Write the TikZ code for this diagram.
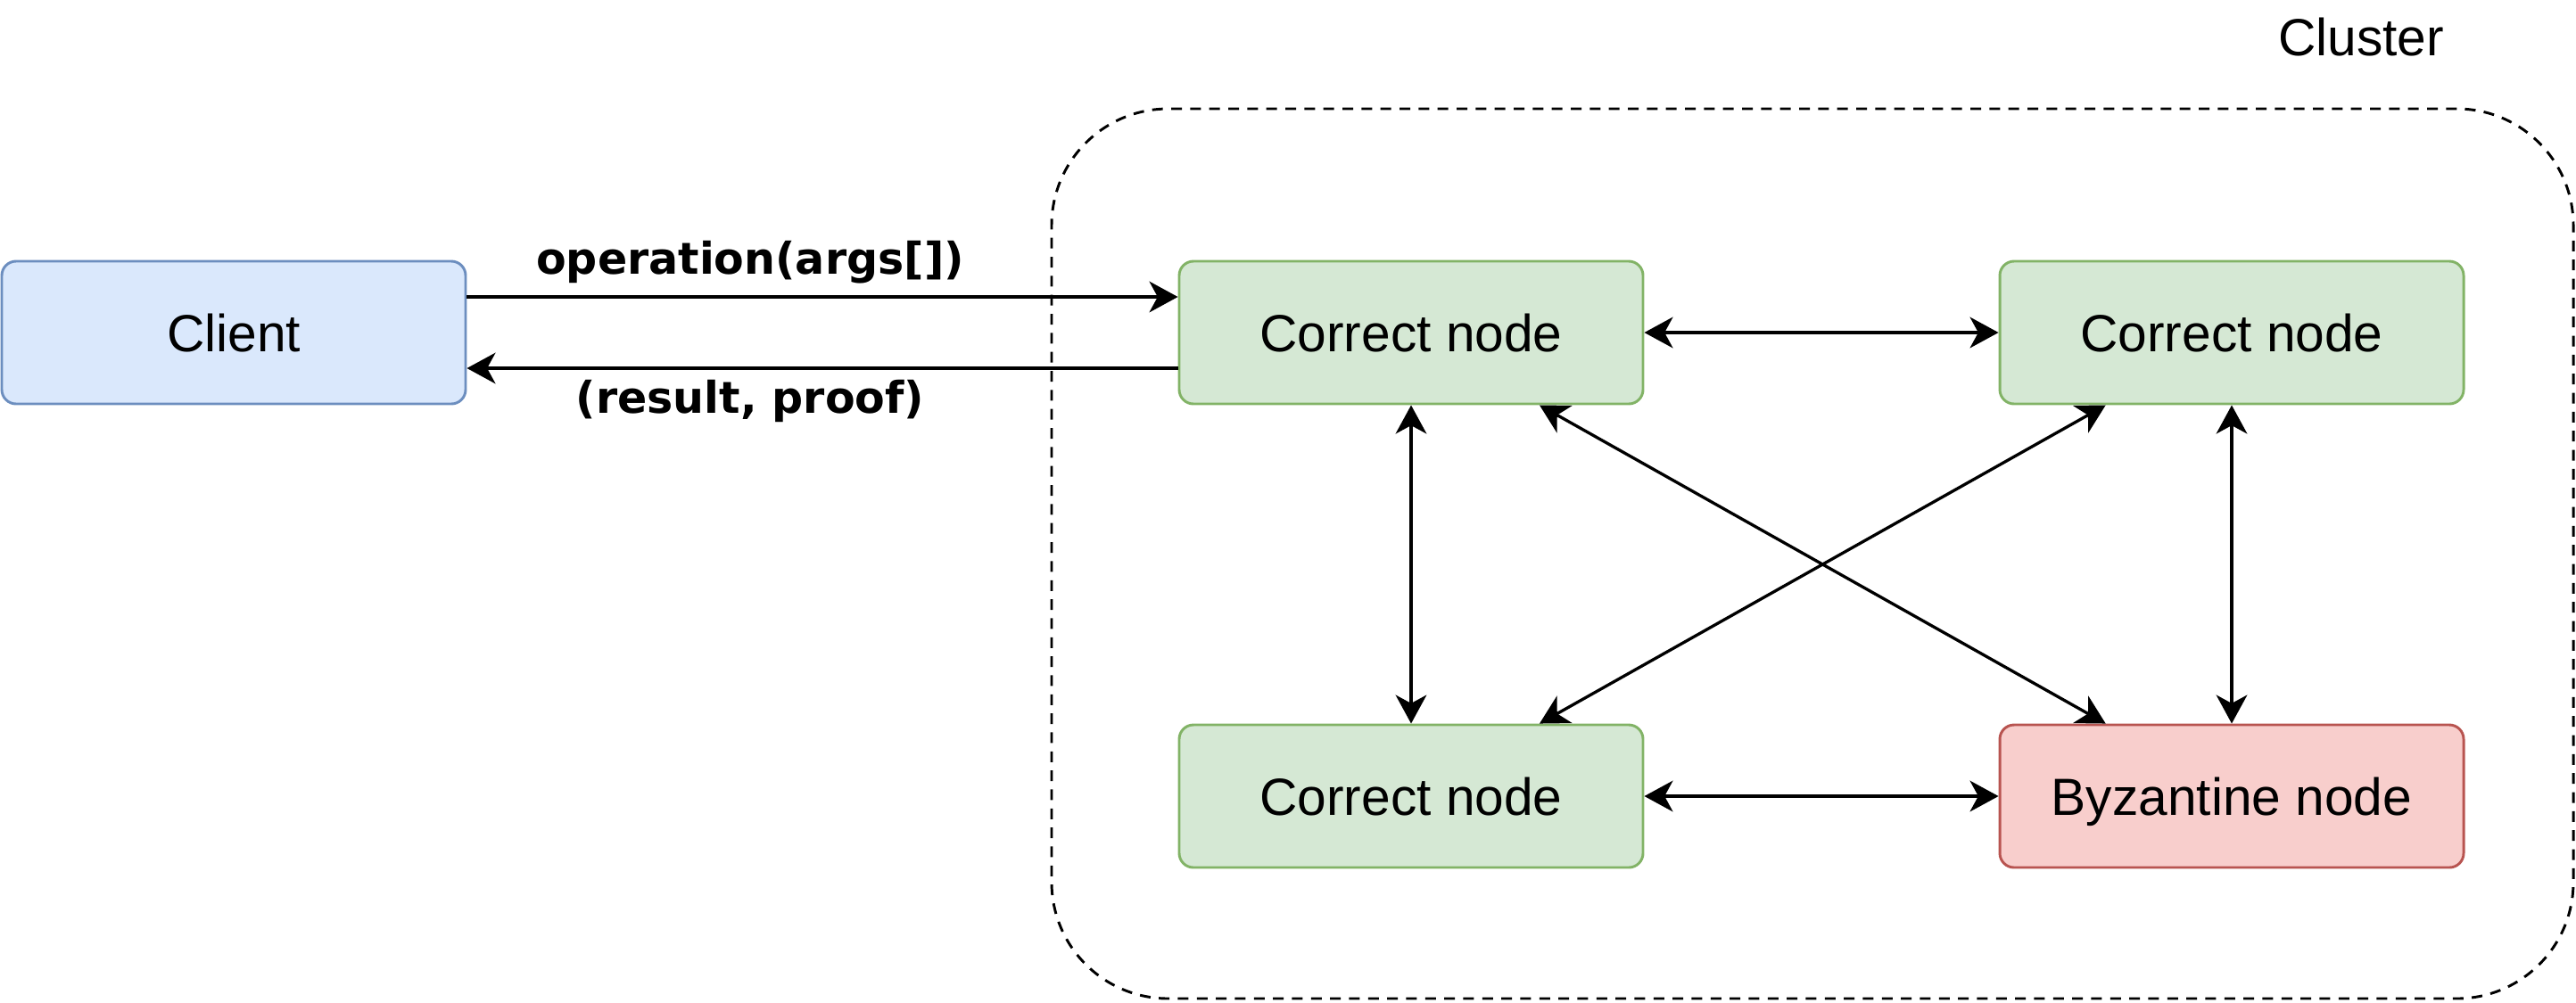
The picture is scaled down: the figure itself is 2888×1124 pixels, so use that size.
\documentclass[tikz,border=0pt]{standalone}
\usepackage{fontspec}
\setmainfont{Liberation Sans}
\newfontfamily\msgfont{DejaVu Sans}
\usetikzlibrary{arrows.meta}
\usetikzlibrary{calc}

\definecolor{clientfill}{HTML}{DAE8FC}
\definecolor{clientline}{HTML}{6C8EBF}
\definecolor{okfill}{HTML}{D5E8D4}
\definecolor{okline}{HTML}{82B366}
\definecolor{badfill}{HTML}{F8CECC}
\definecolor{badline}{HTML}{B85450}

\begin{document}
\begin{tikzpicture}[x=0.375pt, y=-0.375pt,
        >={Stealth[length=12pt, width=13pt, inset=3.5pt]},
        box/.style={draw, rounded corners=6pt, line width=1.1pt, minimum width=195pt, minimum height=60pt, text height=16pt, text depth=0pt, font=\fontsize{22}{26}\selectfont},
        link/.style={line width=1.25pt},
        msg/.style={font=\msgfont\bfseries\fontsize{18.4}{22}\selectfont}]
        \useasboundingbox (0,0) rectangle (2888,1124);

        \node[draw, dash pattern=on 4.5pt off 3.5pt, line width=1.1pt, rounded corners=49pt, minimum width=639.75pt, minimum height=374.25pt] (cluster) at (2032,621) {};
        \node[font=\fontsize{22}{26}\selectfont] (clusterlabel) at (2647,42) {Cluster};

        \node[box, fill=clientfill, draw=clientline] (client) at (262,373) {Client};
        \node[box, fill=okfill, draw=okline] (nodeA) at (1582,373) {Correct node};
        \node[box, fill=okfill, draw=okline] (nodeB) at (2502,373) {Correct node};
        \node[box, fill=okfill, draw=okline] (nodeC) at (1582,893) {Correct node};
        \node[box, fill=badfill, draw=badline] (byz) at (2502,893) {Byzantine node};

        \draw[link, ->] ([yshift=15pt]client.east) -- ([yshift=15pt]nodeA.west);
        \draw[link, ->] ([yshift=-15pt]nodeA.west) -- ([yshift=-15pt]client.east);
        \node[msg] (call) at (841,294) {operation(args[])};
        \node[msg] (reply) at (841,450) {(result, proof)};

        \draw[link, <->] (nodeA.east) -- (nodeB.west);
        \draw[link, <->] (nodeC.east) -- (byz.west);
        \draw[link, <->] (nodeA.south) -- (nodeC.north);
        \draw[link, <->] (nodeB.south) -- (byz.north);
        \draw[link, <->] ([xshift=54pt]nodeA.south) -- ([xshift=-53pt]byz.north);
        \draw[link, <->] ([xshift=-53pt]nodeB.south) -- ([xshift=54pt]nodeC.north);
    \end{tikzpicture}
\end{document}
